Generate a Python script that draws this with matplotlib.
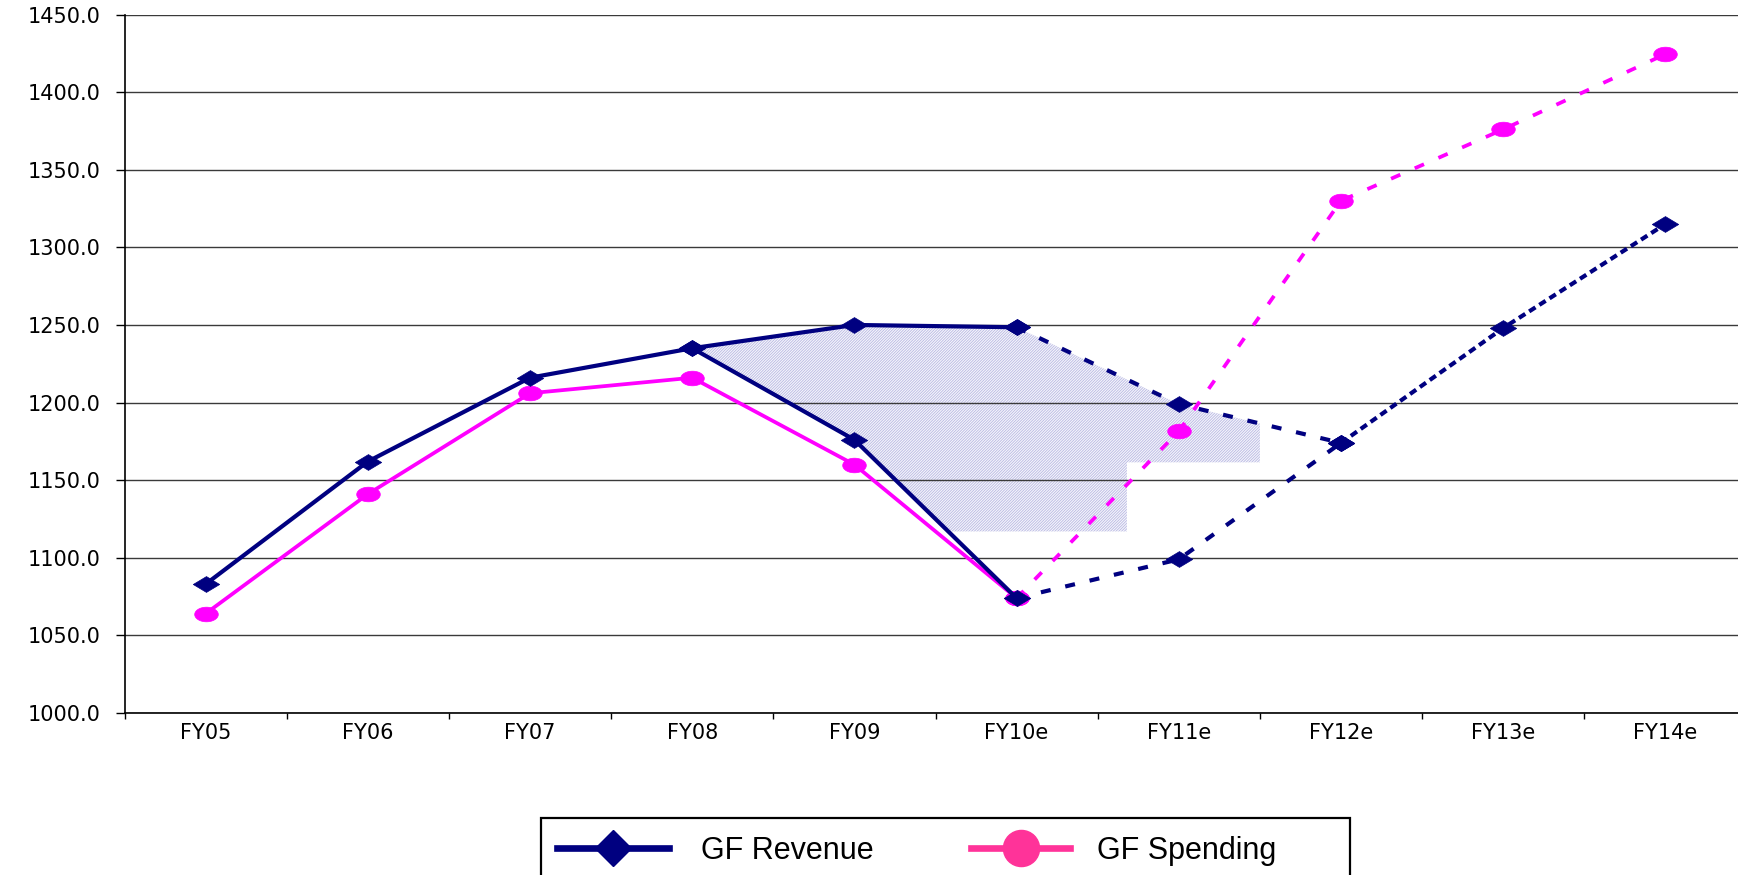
import numpy as np
import matplotlib
matplotlib.use("Agg")
import matplotlib.pyplot as plt
from matplotlib.path import Path
from matplotlib.lines import Line2D
from matplotlib.patches import Rectangle, Polygon

# ---------------- data ----------------
categories = ['FY05', 'FY06', 'FY07', 'FY08', 'FY09', 'FY10e', 'FY11e', 'FY12e', 'FY13e', 'FY14e']

# GF Revenue, actual (FY05 - FY10e)
rev_actual_idx = [0, 1, 2, 3, 4, 5]
rev_actual = [1083, 1162, 1216, 1235, 1176, 1074]
# GF Revenue, current forecast (FY10e - FY14e)
rev_fc_near_idx = [5, 6, 7]
rev_fc_near = [1074, 1099, 1174]
rev_fc_far_idx = [7, 8, 9]
rev_fc_far = [1174, 1248, 1315]
# GF Revenue, earlier projection (FY08 - FY12e)
rev_prior_solid_idx = [3, 4, 5]
rev_prior_solid = [1235, 1250, 1248.5]
rev_prior_dash_idx = [5, 6, 7]
rev_prior_dash = [1248.5, 1199, 1174]

# GF Spending
spend_actual_idx = [0, 1, 2, 3, 4, 5]
spend_actual = [1064, 1141, 1206, 1216, 1160, 1074]
spend_fc_idx = [5, 6, 7, 8, 9]
spend_fc = [1074, 1181.5, 1330, 1376, 1424.5]

# shaded gap region (step outline)
shade_right_x = 6.5
shade_step_x = 5.68
shade_step_y = 1161.5
shade_bottom_y = 1117

yticks = [1000, 1050, 1100, 1150, 1200, 1250, 1300, 1350, 1400, 1450]

# ---------------- style ----------------
NAVY = '#000080'
MAGENTA = '#FF00FF'
PINK = '#FF3399'

W, H = 1738, 875
fig = plt.figure(figsize=(W / 100, H / 100), dpi=100)
ax = fig.add_axes([124.5 / W, 1 - 713 / H, 1622 / W, (713 - 14.5) / H])
ax.set_xlim(-0.5, 9.5)
ax.set_ylim(1000, 1450)

# custom (horizontally stretched) markers
t = np.linspace(0, 2 * np.pi, 64)
ellipse = Path(np.c_[np.cos(t), 0.62 * np.sin(t)], closed=True)
diamond = Path([(0, 0.6), (1, 0), (0, -0.6), (-1, 0), (0, 0.6)], closed=True)

# shading polygon
top_x = [3, 4, 5, 6, shade_right_x]
top_y = list(rev_prior_solid) + [rev_prior_dash[1],
                                 np.interp(shade_right_x, rev_prior_dash_idx, rev_prior_dash)]
x_int = np.interp(shade_bottom_y, [rev_actual[5], rev_actual[4]], [5, 4])
poly = list(zip(top_x, top_y)) + [
    (shade_right_x, shade_step_y), (shade_step_x, shade_step_y),
    (shade_step_x, shade_bottom_y), (x_int, shade_bottom_y),
    (4, rev_actual[4]), (3, rev_actual[3])]
plt.rcParams['hatch.linewidth'] = 0.6
ax.add_patch(Polygon(poly, closed=True, facecolor='#f6f6fc', edgecolor='#b8b8e2',
                     hatch='/' * 12, linewidth=0, zorder=1))

lw_n = 3.0
lw_m = 2.7
mk_rev = dict(marker=diamond, ms=19, mfc=NAVY, mec=NAVY, mew=0.5)
mk_sp = dict(marker=ellipse, ms=17, mfc=MAGENTA, mec=MAGENTA, mew=0.5)

ax.plot(rev_prior_solid_idx, rev_prior_solid, color=NAVY, lw=lw_n, zorder=3, **mk_rev)
ax.plot(rev_prior_dash_idx, rev_prior_dash, color=NAVY, lw=lw_n, zorder=3,
        linestyle=(0, (2.4, 3.6)), **mk_rev)
ax.plot(rev_fc_near_idx, rev_fc_near, color=NAVY, lw=lw_n, zorder=3,
        linestyle=(0, (2.4, 3.6)), **mk_rev)
ax.plot(rev_fc_far_idx, rev_fc_far, color=NAVY, lw=lw_n, zorder=3,
        linestyle=(0, (1.8, 1.1)), **mk_rev)
ax.plot(spend_fc_idx, spend_fc, color=MAGENTA, lw=lw_m, zorder=4,
        linestyle=(0, (2.7, 4.2)), **mk_sp)
ax.plot(spend_actual_idx, spend_actual, color=MAGENTA, lw=lw_m, zorder=4, **mk_sp)
ax.plot(rev_actual_idx, rev_actual, color=NAVY, lw=lw_n, zorder=5, **mk_rev)

# axes styling
ax.set_axisbelow('line')
ax.yaxis.grid(True, color='#3a3a3a', lw=1.0)
ax.xaxis.grid(False)
for s in ['top', 'right']:
    ax.spines[s].set_visible(False)
for s in ['left', 'bottom']:
    ax.spines[s].set_color('black')
    ax.spines[s].set_linewidth(1.2)

ax.set_yticks(yticks)
ax.set_yticklabels([f'{v:.1f}' for v in yticks])
ax.set_xticks(range(len(categories)))
ax.set_xticklabels(categories)
ax.set_xticks(np.arange(-0.5, len(categories), 1.0), minor=True)
ax.tick_params(axis='x', which='major', length=0, pad=7, labelsize=15)
ax.tick_params(axis='x', which='minor', length=4, width=1.0, direction='out', color='black')
ax.tick_params(axis='y', which='major', length=6.5, width=1.0, direction='out',
               pad=11, labelsize=15, color='black')
for lab in ax.get_xticklabels() + ax.get_yticklabels():
    lab.set_fontfamily('DejaVu Sans')

# legend (box clipped at the bottom of the figure)
fig.patches.append(Rectangle((541 / W, -0.1), (1350 - 541) / W, 0.1 + (1 - 818 / H),
                             transform=fig.transFigure, fill=False,
                             edgecolor='black', linewidth=1.6, zorder=10))
h_rev = Line2D([], [], color=NAVY, lw=4.8, marker='D', ms=18, mfc=NAVY, mec=NAVY)
h_sp = Line2D([], [], color=PINK, lw=4.8, marker='o', ms=26, mfc=PINK, mec=PINK)
leg_y = 1 - 851 / H
fsz = 22
leg1 = fig.legend([h_rev], ['GF Revenue'], loc='center left',
                  bbox_to_anchor=(557 / W, leg_y), frameon=False, borderpad=0,
                  borderaxespad=0, handlelength=112 / (fsz * 100 / 72),
                  handletextpad=32 / (fsz * 100 / 72), numpoints=1,
                  prop={'family': 'Liberation Sans', 'size': fsz})
leg2 = fig.legend([h_sp], ['GF Spending'], loc='center left',
                  bbox_to_anchor=(971 / W, leg_y), frameon=False, borderpad=0,
                  borderaxespad=0, handlelength=99 / (fsz * 100 / 72),
                  handletextpad=27 / (fsz * 100 / 72), numpoints=1,
                  prop={'family': 'Liberation Sans', 'size': fsz})

fig.savefig('out.png', dpi=100)
